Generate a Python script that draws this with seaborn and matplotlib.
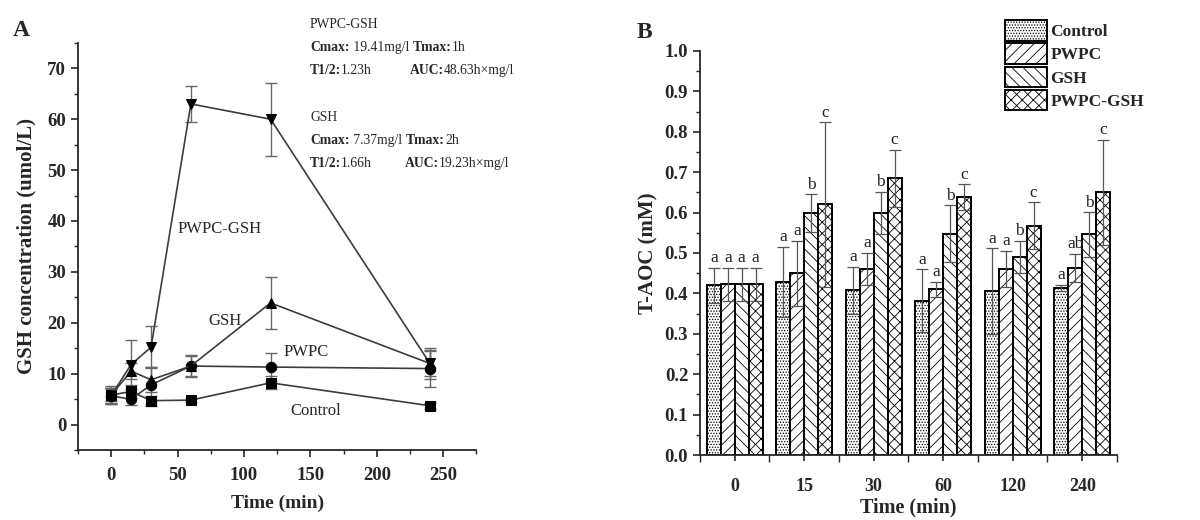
import pandas as pd
import matplotlib.pyplot as plt
import seaborn as sns
from matplotlib.patches import Patch
from matplotlib.ticker import MultipleLocator

# Panel A: plasma GSH concentration (umol/L) over time
time_min = [0, 15, 30, 60, 120, 240]
ctrl_gsh = [5.8, 6.5, 4.7, 4.8, 8.2, 3.7]
ctrl_gsh_err = [1.8, 1.2, 1.0, 0.4, 1.3, 0.6]
pwpc_gsh = [5.6, 5.0, 7.8, 11.5, 11.3, 11.0]
pwpc_gsh_err = [1.5, 1.2, 3.5, 2.2, 2.8, 3.7]
gsh_gsh = [5.8, 10.5, 8.8, 11.5, 23.9, 12.0]
gsh_gsh_err = [1.2, 1.5, 2.5, 2.0, 5.1, 2.5]
combo_gsh = [5.7, 11.8, 15.2, 63.0, 60.0, 12.0]
combo_gsh_err = [1.5, 4.8, 4.1, 3.5, 7.2, 3.0]

# Panel B: T-AOC (mM)
time_labels = ["0", "15", "30", "60", "120", "240"]
groups = ["Control", "PWPC", "GSH", "PWPC-GSH"]
taoc_ctrl = [0.420, 0.428, 0.408, 0.382, 0.406, 0.413]
taoc_ctrl_err = [0.043, 0.087, 0.058, 0.078, 0.106, 0.008]
taoc_pwpc = [0.422, 0.450, 0.460, 0.410, 0.460, 0.463]
taoc_pwpc_err = [0.042, 0.080, 0.040, 0.018, 0.045, 0.035]
taoc_gsh = [0.422, 0.598, 0.600, 0.548, 0.490, 0.546]
taoc_gsh_err = [0.042, 0.047, 0.052, 0.070, 0.040, 0.055]
taoc_combo = [0.422, 0.620, 0.685, 0.638, 0.567, 0.650]
taoc_combo_err = [0.042, 0.203, 0.071, 0.032, 0.058, 0.130]
sig_ctrl = ["a", "a", "a", "a", "a", "a"]
sig_pwpc = ["a", "a", "a", "a", "a", "ab"]
sig_gsh = ["a", "b", "b", "b", "b", "b"]
sig_combo = ["a", "c", "c", "c", "c", "c"]

sns.set_style("ticks")
plt.rcParams['font.family'] = ['Liberation Serif', 'DejaVu Serif']
plt.rcParams['hatch.linewidth'] = 0.6
plt.rcParams['axes.linewidth'] = 1.3

fig = plt.figure(figsize=(12, 5.2), dpi=100)
axA = fig.add_axes([0.065, 0.1346, 0.332, 0.783])
axB = fig.add_axes([0.5833, 0.125, 0.3475, 0.777])


def chain(x_px, y_px, parts, size=9.8):
    # one line of text built from (string, weight) pieces placed end to end
    prev = axA.annotate(parts[0][0], xy=(x_px / 1200, 1 - y_px / 520), xycoords="figure fraction",
                        fontsize=size, fontweight=parts[0][1], va="bottom", ha="left",
                        annotation_clip=False)
    for s, w in parts[1:]:
        prev = axA.annotate(s, xy=(1, 0), xycoords=prev, fontsize=size, fontweight=w,
                            va="bottom", ha="left", annotation_clip=False)


# ---- Panel A ----
line_col = "#3c3c3c"
err_col = "#666666"
series = [
    ("Control", ctrl_gsh, ctrl_gsh_err, "s"),
    ("PWPC", pwpc_gsh, pwpc_gsh_err, "o"),
    ("GSH", gsh_gsh, gsh_gsh_err, "^"),
    ("PWPC-GSH", combo_gsh, combo_gsh_err, "v"),
]
for name, vals, errs, mk in series:
    axA.errorbar(time_min, vals, yerr=errs, fmt="none", ecolor=err_col,
                 elinewidth=1.0, capsize=4, capthick=1.0, zorder=2)
    df_line = pd.DataFrame({"t": time_min, "v": vals})
    sns.lineplot(data=df_line, x="t", y="v", ax=axA, color=line_col, lw=1.2,
                 marker=mk, markersize=7.5, markeredgecolor="black",
                 markerfacecolor="black", zorder=3)

axA.set_xlim(-25, 275)
axA.set_ylim(-5, 75)
axA.xaxis.set_major_locator(MultipleLocator(50))
axA.xaxis.set_minor_locator(MultipleLocator(25))
axA.yaxis.set_minor_locator(MultipleLocator(5))
axA.set_yticks([0, 10, 20, 30, 40, 50, 60, 70])
axA.tick_params(which="major", direction="out", length=5, width=1.2, labelsize=13.5)
axA.tick_params(which="minor", direction="out", length=3, width=1.0)
axA.tick_params(axis="x", pad=7)
for lab in axA.get_xticklabels() + axA.get_yticklabels():
    lab.set_fontweight("bold")
sns.despine(ax=axA)
axA.set_xlabel("Time (min)", fontsize=14, fontweight="bold", labelpad=8)
axA.set_ylabel("GSH concentration (umol/L)", fontsize=15, fontweight="bold", labelpad=8)

axA.text(50, 38.5, "PWPC-GSH", fontsize=12, va="center")
axA.text(73, 20.3, "GSH", fontsize=12, va="center")
axA.text(130, 14.2, "PWPC", fontsize=12, va="center")
axA.text(135, 2.6, "Control", fontsize=12, va="center")

chain(310, 31, [("PWPC-GSH", "normal")])
chain(310, 54, [("Cmax:", "bold"), (" 19.41mg/l", "normal")])
chain(413, 54, [("Tmax:", "bold"), ("1h", "normal")])
chain(310, 77, [("T1/2:", "bold"), ("1.23h", "normal")])
chain(410, 77, [("AUC:", "bold"), ("48.63h×mg/l", "normal")])
chain(310, 124, [("GSH", "normal")])
chain(310, 147, [("Cmax:", "bold"), (" 7.37mg/l", "normal")])
chain(406, 147, [("Tmax:", "bold"), ("2h", "normal")])
chain(310, 170, [("T1/2:", "bold"), ("1.66h", "normal")])
chain(405, 170, [("AUC:", "bold"), ("19.23h×mg/l", "normal")])

fig.text(13 / 1200, 1 - 31 / 520, "A", fontsize=17, fontweight="bold", va="center")
fig.text(637 / 1200, 1 - 33 / 520, "B", fontsize=17, fontweight="bold", va="center")

# ---- Panel B ----
all_vals = [taoc_ctrl, taoc_pwpc, taoc_gsh, taoc_combo]
all_errs = [taoc_ctrl_err, taoc_pwpc_err, taoc_gsh_err, taoc_combo_err]
all_sig = [sig_ctrl, sig_pwpc, sig_gsh, sig_combo]
rows = []
for g, vals in zip(groups, all_vals):
    for t, v in zip(time_labels, vals):
        rows.append({"Time": t, "Group": g, "TAOC": v})
df_bar = pd.DataFrame(rows)

sns.barplot(data=df_bar, x="Time", y="TAOC", hue="Group", order=time_labels,
            hue_order=groups, width=0.8, errorbar=None, legend=False,
            ax=axB, palette=["white"] * 4,
            edgecolor="black", linewidth=1.4, saturation=1)

hatches = ["......", "///", "\\\\\\", "xxx"]
bar_patches = axB.patches
for gi in range(len(groups)):
    for ti in range(len(time_labels)):
        p = bar_patches[gi * len(time_labels) + ti]
        p.set_hatch(hatches[gi])
        p.set_facecolor("white")
        xc = p.get_x() + p.get_width() / 2
        v = all_vals[gi][ti]
        e = all_errs[gi][ti]
        axB.errorbar(xc, v, yerr=e, fmt="none", ecolor="#555555",
                     elinewidth=0.9, capsize=4, capthick=0.9, zorder=3)
        axB.text(xc, v + e + 0.004, all_sig[gi][ti], ha="center", va="bottom",
                 fontsize=12.5, color="#222222")

axB.set_xlim(-0.5, 5.5)
axB.set_ylim(0, 1.0)
axB.yaxis.set_minor_locator(MultipleLocator(0.05))
axB.set_xticks(range(6))
axB.set_xticks([i + 0.5 for i in range(-1, 6)], minor=True)
axB.tick_params(axis="x", which="major", direction="inout", length=9, width=1.2, labelsize=13, pad=12)
axB.tick_params(axis="x", which="minor", direction="out", length=5, width=1.0)
axB.tick_params(axis="y", which="major", direction="out", length=5, width=1.2, labelsize=13.5)
axB.tick_params(axis="y", which="minor", direction="out", length=3, width=1.0)
axB.set_yticks([i / 10 for i in range(11)])
axB.set_yticklabels([f"{i / 10:.1f}" for i in range(11)])
for lab in axB.get_xticklabels() + axB.get_yticklabels():
    lab.set_fontweight("bold")
sns.despine(ax=axB)
axB.set_xlabel("Time (min)", fontsize=14.5, fontweight="bold", labelpad=2)
axB.set_ylabel("T-AOC (mM)", fontsize=15, fontweight="bold", labelpad=4)

handles = [Patch(facecolor="white", edgecolor="black", hatch=h, linewidth=1.4, label=g)
           for g, h in zip(groups, hatches)]
fig.legend(handles=handles, loc="upper left", bbox_to_anchor=(993 / 1200, 1 - 8 / 520),
           frameon=False, prop={"weight": "bold", "size": 12.5}, handlelength=2.4,
           handleheight=1.45, labelspacing=0.15, handletextpad=0.2, borderpad=0.2)

fig.savefig("out.png", dpi=100)
